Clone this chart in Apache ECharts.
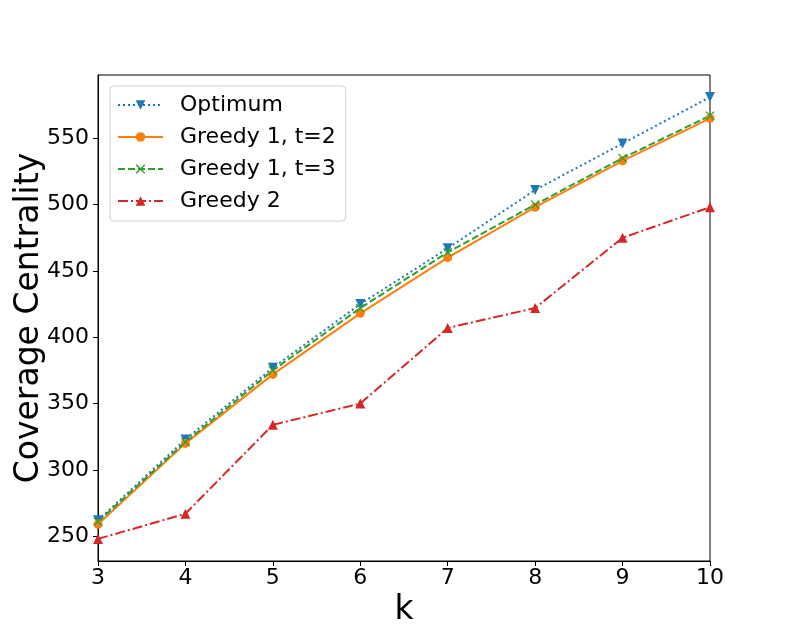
<!DOCTYPE html>
<html>
<head>
<meta charset="utf-8">
<script src="https://cdn.jsdelivr.net/npm/echarts@6/dist/echarts.min.js"></script>
<style>
  html, body { margin: 0; padding: 0; background: #fff; }
  #chart { width: 789px; height: 631px; }
</style>
</head>
<body>
<div id="chart"></div>
<script>
// values
var kValues = [3, 4, 5, 6, 7, 8, 9, 10];
var optimum = [262, 323, 377, 425, 467, 511, 546, 581];
var greedy1t2 = [259, 320, 372, 418, 460, 498, 533, 565];
var greedy1t3 = [261, 321, 375, 422, 464, 500, 535, 567];
var greedy2 = [248, 267, 334, 350, 407, 422, 475, 498];
var yTicks = [250, 300, 350, 400, 450, 500, 550];

var seriesNames = ['Optimum', 'Greedy 1, t=2', 'Greedy 1, t=3', 'Greedy 2'];
var font = 'DejaVu Sans';

// matplotlib style 5% margins
var all = optimum.concat(greedy1t2, greedy1t3, greedy2);
var lo = Math.min.apply(null, all), hi = Math.max.apply(null, all);
var yMin = lo - 0.05 * (hi - lo);
var yMax = hi + 0.05 * (hi - lo);

function pairs(ys) {
	return kValues.map(function (k, i) { return [k, ys[i]]; });
}

var crossPath = 'path://M0,1 L1,0 L5,4 L9,0 L10,1 L6,5 L10,9 L9,10 L5,6 L1,10 L0,9 L4,5 Z';

var myChart = echarts.init(document.getElementById('chart'));
var option = {
	animation: false,
	backgroundColor: '#fff',
	grid: {
		left: 98, right: 79, top: 75, bottom: 70,
		outerBoundsMode: 'none', containLabel: false,
		show: true, borderColor: '#000', borderWidth: 1, backgroundColor: 'transparent'
	},
	legend: {
		orient: 'vertical',
		left: 110, top: 86,
		data: seriesNames,
		itemWidth: 45, itemHeight: 12, itemGap: 10,
		padding: [8, 10, 9, 7],
		backgroundColor: '#fff',
		borderColor: '#d0d0d0', borderWidth: 1, borderRadius: 4,
		textStyle: { fontFamily: font, fontSize: 22, color: '#000', lineHeight: 22, padding: [0, 0, 0, 12] }
	},
	xAxis: {
		type: 'value', min: 3, max: 10, interval: 1,
		name: 'k', nameLocation: 'middle', nameGap: 27,
		nameTextStyle: { fontFamily: font, fontSize: 33, color: '#000' },
		axisLine: { show: true, lineStyle: { color: '#000', width: 1 } },
		axisTick: { show: true, length: 5, inside: false, lineStyle: { color: '#000' } },
		axisLabel: { fontFamily: font, fontSize: 22, color: '#000', margin: 6 },
		splitLine: { show: false }
	},
	yAxis: {
		type: 'value', min: yMin, max: yMax,
		name: 'Coverage Centrality', nameLocation: 'middle', nameGap: 52,
		nameMoveOverlap: false,
		nameTextStyle: { fontFamily: font, fontSize: 33, color: '#000' },
		axisLine: { show: true, lineStyle: { color: '#000', width: 1 } },
		axisTick: { show: true, length: 5, customValues: yTicks, lineStyle: { color: '#000' } },
		axisLabel: { fontFamily: font, fontSize: 22, color: '#000', margin: 9, customValues: yTicks },
		splitLine: { show: false }
	},
	series: [
		{
			name: seriesNames[0], type: 'line', data: pairs(optimum),
			symbol: 'triangle', symbolRotate: 180, symbolSize: 10,
			itemStyle: { color: '#1f77b4' },
			lineStyle: { color: '#1f77b4', width: 2, type: [2, 3] }
		},
		{
			name: seriesNames[1], type: 'line', data: pairs(greedy1t2),
			symbol: 'circle', symbolSize: 9,
			itemStyle: { color: '#ff7f0e' },
			lineStyle: { color: '#ff7f0e', width: 2, type: 'solid' }
		},
		{
			name: seriesNames[2], type: 'line', data: pairs(greedy1t3),
			symbol: crossPath, symbolSize: 9,
			itemStyle: { color: '#2ca02c' },
			lineStyle: { color: '#2ca02c', width: 2, type: [7, 3] }
		},
		{
			name: seriesNames[3], type: 'line', data: pairs(greedy2),
			symbol: 'triangle', symbolSize: 10,
			itemStyle: { color: '#d62728' },
			lineStyle: { color: '#d62728', width: 2, type: [10, 3, 2, 3] }
		}
	]
};
myChart.setOption(option);
</script>
</body>
</html>
